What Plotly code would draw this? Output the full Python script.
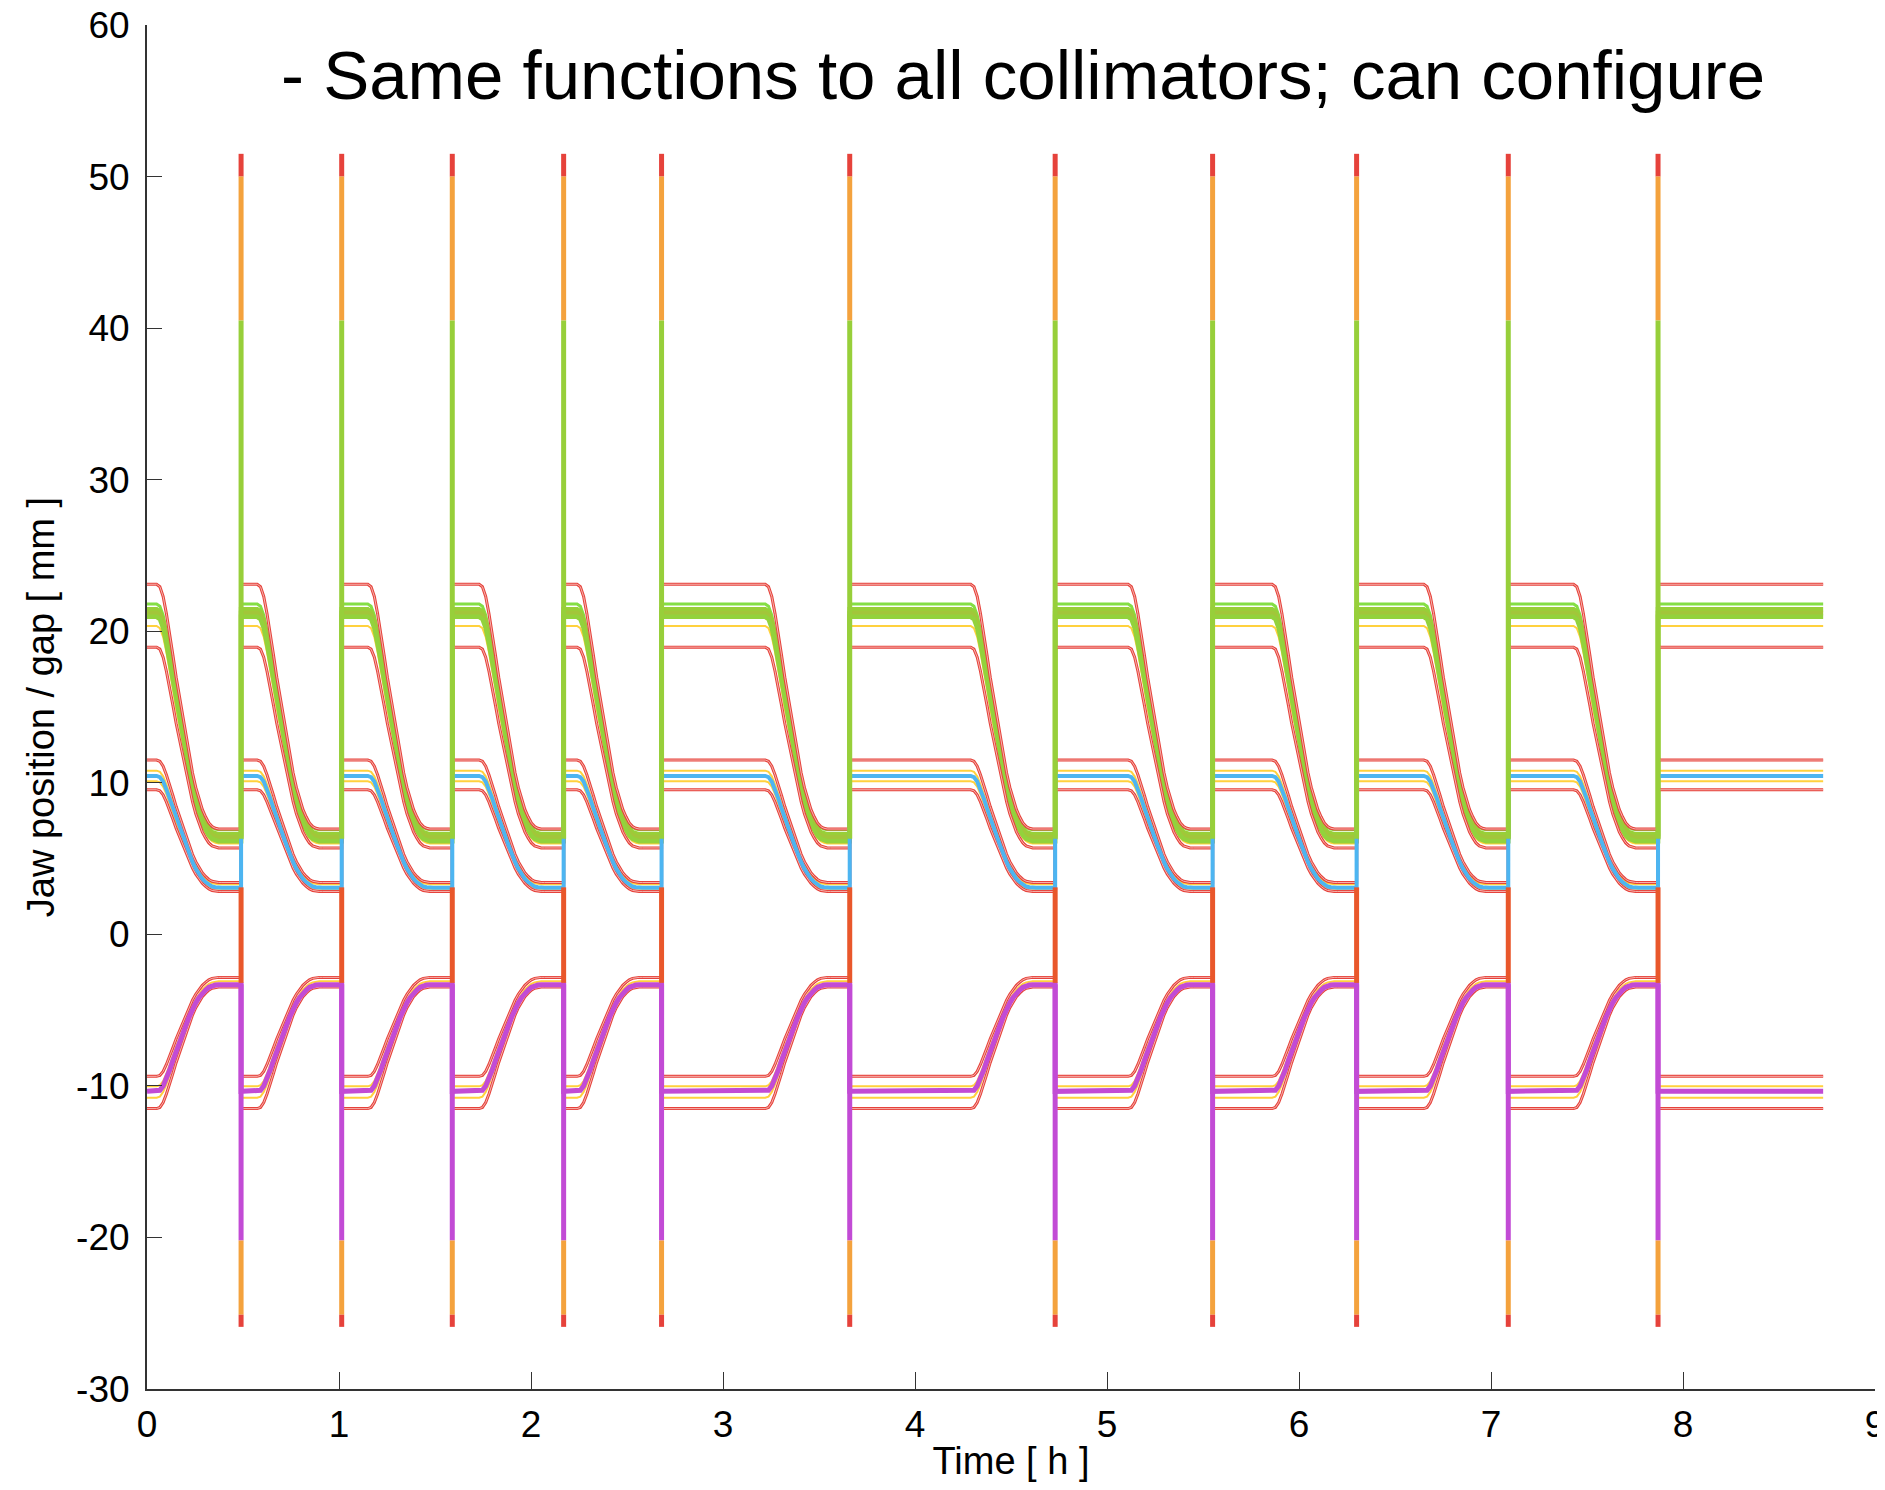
import plotly.graph_objects as go

# ---------------- data ----------------
# times (h) at which all collimators are opened (vertical spikes)
spike_times = [0.49, 1.014, 1.59, 2.17, 2.68, 3.66, 4.73, 5.55, 6.30, 7.09, 7.87]
t_last = 8.73            # end of the recorded data (h)
ramp_duration = 0.34     # duration of the closing function (h)
final_flat = 0.10        # time spent at the closed settings before the next opening (h)

# normalised shape of the closing function (same for every collimator)
ramp_s = [0, 0.05, 0.1, 0.15, 0.2, 0.25, 0.3, 0.35, 0.4, 0.45, 0.5, 0.55, 0.6,
          0.65, 0.7, 0.75, 0.8, 0.85, 0.9, 0.95, 1.0]
ramp_f = [0, 0.01, 0.05, 0.12, 0.2, 0.29, 0.38, 0.46, 0.54, 0.62, 0.70, 0.77,
          0.83, 0.88, 0.92, 0.95, 0.975, 0.99, 0.997, 1.0, 1.0]

# jaw settings
series_names = ["yellow up", "yellow mid 1", "yellow mid 2", "yellow low 1", "yellow low 2",
                "green 1", "green 2", "green 3", "green 4",
                "red up outer", "red up inner", "red mid outer", "red mid inner",
                "red low outer", "red low inner",
                "blue mid", "magenta low"]
open_values = [20.35, 10.8, 10.1, -10.03, -10.78,
               21.8, 21.45, 21.2, 20.95,
               23.1, 18.95, 11.5, 9.54,
               -9.37, -11.5,
               10.45, -10.36]
closed_values = [6.0, 3.3, 3.0, -3.1, -3.4,
                 6.9, 6.6, 6.4, 6.15,
                 6.95, 5.7, 3.42, 2.83,
                 -2.84, -3.48,
                 3.08, -3.32]

# parking values reached at each opening (top, bottom)
spike_tops = [51.5, 50.0, 20.0, 40.5, 3.1, -3.3, -20.2, -25.1]
spike_bottoms = [50.0, 40.5, 3.1, 6.3, -3.2, -20.2, -25.1, -25.9]

# tick labels
x_ticks = [0, 1, 2, 3, 4, 5, 6, 7, 8, 9]
y_ticks = [-30, -20, -10, 0, 10, 20, 30, 40, 50, 60]
y_tick_labels = ["-30", "-20", "-10", "0", "10", "20", "30", "40", "50", "60"]

# ---------------- styles ----------------
RED = "#E6423B"
RED_IN = "#F6B3AE"
YELLOW = "#FFD13D"
GREENS = ["#84DE45", "#98CF38", "#A2C63A", "#93D23C"]
BLUE = "#4DB5F1"
MAGENTA = "#C24BD5"
ORANGE = "#F4A23D"
ORANGERED = "#E9572B"

series_colors = [YELLOW] * 5 + GREENS + [RED] * 6 + [BLUE, MAGENTA]
series_widths = [2] * 5 + [3, 4.5, 4.5, 4.5] + [3] * 6 + [4, 5]
spike_colors = [RED, ORANGE, BLUE, "#97CF3A", ORANGERED, MAGENTA, ORANGE, RED]
spike_widths = [5, 5, 3, 5, 5, 5, 5, 5]


def build_series(v_open, v_close):
    xs, ys = [], []
    starts = [0.0] + spike_times
    ends = spike_times + [t_last]
    for k, (ts, te) in enumerate(zip(starts, ends)):
        if k < len(spike_times):
            r0 = te - final_flat - ramp_duration
            xs += [ts, r0]
            ys += [v_open, v_open]
            for s, f in zip(ramp_s, ramp_f):
                xs.append(r0 + s * ramp_duration)
                ys.append(v_open + (v_close - v_open) * f)
            xs.append(te)
            ys.append(v_close)
        else:
            xs += [ts, te]
            ys += [v_open, v_open]
    return xs, ys


fig = go.Figure()

for name, vo, vc, col, w in zip(series_names, open_values, closed_values,
                                series_colors, series_widths):
    xs, ys = build_series(vo, vc)
    fig.add_trace(go.Scatter(x=xs, y=ys, mode="lines", name=name,
                             line=dict(color=col, width=w), hoverinfo="skip",
                             showlegend=False))
    if col == RED:
        fig.add_trace(go.Scatter(x=xs, y=ys, mode="lines", name=name + " core",
                                 line=dict(color=RED_IN, width=1), hoverinfo="skip",
                                 showlegend=False))

# vertical opening segments
for top, bot, col, w in zip(spike_tops, spike_bottoms, spike_colors, spike_widths):
    xs, ys = [], []
    for t in spike_times:
        xs += [t, t, None]
        ys += [top, bot, None]
    fig.add_trace(go.Scatter(x=xs, y=ys, mode="lines", line=dict(color=col, width=w),
                             hoverinfo="skip", showlegend=False))

FONT = "Liberation Sans, Arial, Helvetica, sans-serif"
# the page body has an 8 px margin: figure sized to fit inside it
OFF = 8
W, H = 1885 - 2 * OFF, 1490 - 2 * OFF
plot_left, plot_right, plot_top, plot_bottom = 147, 1875, 25, 1389   # page pixels
L = plot_left - OFF
R = W - (plot_right - OFF)
T = plot_top - OFF
B = H - (plot_bottom - OFF)

fig.update_layout(
    width=W, height=H,
    margin=dict(l=L, r=R, t=T, b=B),
    paper_bgcolor="white", plot_bgcolor="white",
    font=dict(family=FONT, color="black"),
    xaxis=dict(range=[0, 9], tickmode="array", tickvals=x_ticks,
               ticks="inside", ticklen=17, tickwidth=1.2, tickcolor="#333",
               showline=True, linecolor="#333", linewidth=2, showgrid=False,
               zeroline=False, automargin=False, ticklabelstandoff=2,
               ticklabeloverflow="allow",
               tickfont=dict(size=37, family=FONT),
               title=dict(text="Time [ h ]", font=dict(size=38, family=FONT), standoff=14)),
    yaxis=dict(range=[-30, 60], tickmode="array", tickvals=y_ticks, ticktext=y_tick_labels,
               ticks="inside", ticklen=15, tickwidth=1.2, tickcolor="#333",
               showline=True, linecolor="#333", linewidth=2, showgrid=False,
               zeroline=False, automargin=False, ticklabelstandoff=8,
               ticklabeloverflow="allow",
               tickfont=dict(size=37, family=FONT),
               title=dict(text="Jaw position / gap [ mm ]", font=dict(size=38, family=FONT),
                          standoff=10)),
)

title_page_x, title_page_y = 279, 76
plot_w = plot_right - plot_left
plot_h = plot_bottom - plot_top
fig.add_annotation(text="- Same functions to all collimators; can configure",
                   xref="paper", yref="paper",
                   x=(title_page_x - plot_left) / plot_w,
                   y=(plot_bottom - title_page_y) / plot_h,
                   xanchor="left", yanchor="middle", showarrow=False,
                   font=dict(size=69, family=FONT, color="black"))

fig.write_html("out.html")
